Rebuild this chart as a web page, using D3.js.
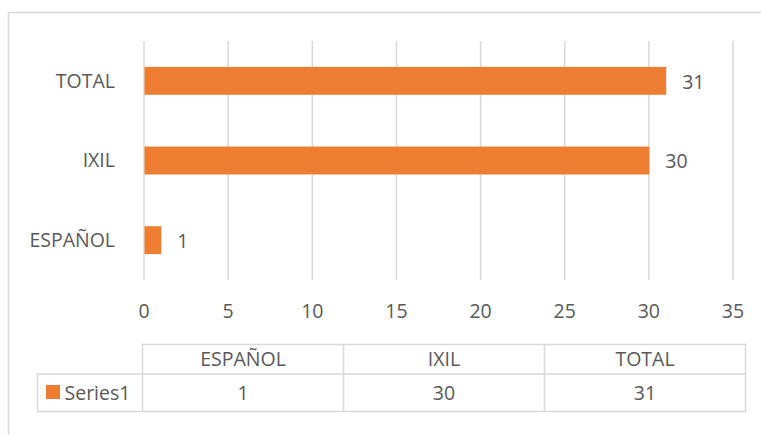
<!DOCTYPE html>
<html><head><meta charset="utf-8">
<script src="https://cdn.jsdelivr.net/npm/d3@7"></script>
<style>
body{margin:0;background:#fff;}
text{font-family:"Open Sans",sans-serif;fill:#595959;}
</style></head>
<body>
<svg id="c" width="761" height="435"></svg>
<script>
const categories = ["ESPAÑOL", "IXIL", "TOTAL"];
const seriesName = "Series1";
const values = [1, 30, 31];
const xTicks = [0, 5, 10, 15, 20, 25, 30, 35];

const svg = d3.select("#c");
const fs = 19.5;
const orange = "#ED7D31", grid = "#d9d9d9";

// outer chart border
svg.append("rect").attr("x", 8.5).attr("y", 12.5).attr("width", 800).attr("height", 500)
  .attr("fill", "none").attr("stroke", grid).attr("stroke-width", 1.5);

const x = d3.scaleLinear().domain([0, 35]).range([144, 733]);
const y = d3.scaleBand().domain(categories.slice().reverse()).range([41, 280]).paddingInner(0.65).paddingOuter(0.325);

// gridlines
svg.append("g").selectAll("line").data(xTicks).join("line")
  .attr("x1", d => x(d)).attr("x2", d => x(d)).attr("y1", 41).attr("y2", 280)
  .attr("stroke", grid).attr("stroke-width", 1.5);

// x tick labels
svg.append("g").selectAll("text").data(xTicks).join("text")
  .attr("x", d => x(d)).attr("y", 311).attr("dy", "0.35em").attr("text-anchor", "middle")
  .attr("font-size", fs).text(d => d);

// bars
svg.append("g").selectAll("rect").data(categories).join("rect")
  .attr("x", x(0) + 0.5).attr("y", d => y(d)).attr("height", y.bandwidth())
  .attr("width", (d, i) => x(values[i]) - x(0))
  .attr("fill", orange);

// category labels
svg.append("g").selectAll("text").data(categories).join("text")
  .attr("x", 115).attr("y", d => y(d) + y.bandwidth() / 2).attr("dy", "0.35em")
  .attr("text-anchor", "end").attr("font-size", fs).text(d => d);

// data labels
svg.append("g").selectAll("text").data(categories).join("text")
  .attr("x", (d, i) => x(values[i]) + 16.5).attr("y", d => y(d) + y.bandwidth() / 2 + 1).attr("dy", "0.35em")
  .attr("font-size", fs).text((d, i) => values[i]);

// data table
const colX = d3.scaleBand().domain(categories).range([142.5, 745.5]);
const tY0 = 344.5, tY1 = 374, tY2 = 411.5, legX = 37.5;
const tg = svg.append("g").attr("stroke", grid).attr("stroke-width", 1.5).attr("fill", "none");
tg.append("path").attr("d",
  `M${colX.range()[0]},${tY2}V${tY0}H${colX.range()[1]}V${tY2}H${legX}V${tY1}H${colX.range()[1]}`);
tg.selectAll("line").data(categories.slice(1)).join("line")
  .attr("x1", d => colX(d)).attr("x2", d => colX(d)).attr("y1", tY0).attr("y2", tY2);

svg.append("g").selectAll("text").data(categories).join("text")
  .attr("x", d => colX(d) + colX.bandwidth() / 2).attr("y", (tY0 + tY1) / 2).attr("dy", "0.35em")
  .attr("text-anchor", "middle").attr("font-size", fs).text(d => d);
svg.append("g").selectAll("text").data(categories).join("text")
  .attr("x", d => colX(d) + colX.bandwidth() / 2).attr("y", (tY1 + tY2) / 2).attr("dy", "0.35em")
  .attr("text-anchor", "middle").attr("font-size", fs).text((d, i) => values[i]);

// legend key
svg.append("rect").attr("x", 46).attr("y", 385).attr("width", 14).attr("height", 14).attr("fill", orange);
svg.append("text").attr("x", 64.5).attr("y", (tY1 + tY2) / 2).attr("dy", "0.35em")
  .attr("font-size", fs).text(seriesName);
</script>
</body></html>
